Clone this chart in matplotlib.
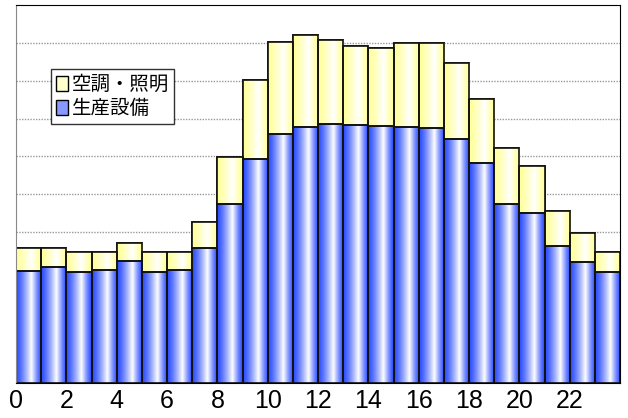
import numpy as np
import matplotlib.pyplot as plt
from matplotlib.patches import Patch
from matplotlib.colors import to_rgb

plt.rcParams['font.family'] = ['Noto Sans CJK JP', 'DejaVu Sans']

# 時刻ごとの電力 (単位は目盛なし)
hours = list(range(24))
seisan = [2.96, 3.06, 2.94, 2.99, 3.22, 2.95, 2.98, 3.58, 4.75, 5.92, 6.58, 6.78,
          6.85, 6.82, 6.80, 6.78, 6.76, 6.45, 5.81, 4.74, 4.51, 3.62, 3.21, 2.94]
total = [3.58, 3.58, 3.47, 3.48, 3.71, 3.47, 3.48, 4.27, 5.97, 8.01, 9.03, 9.21,
         9.07, 8.92, 8.87, 8.99, 8.99, 8.47, 7.51, 6.22, 5.75, 4.54, 3.96, 3.46]
kucho = [t - s for t, s in zip(total, seisan)]
labels = ['空調・照明', '生産設備']
xticks = list(range(0, 24, 2))

blue = '#2a4cff'
yellow = '#ffff99'


def gradient(base):
    # 左端と右端が濃く、中央寄りが白くなる横グラデーション
    x = np.linspace(0, 1, 64)
    t = np.where(x < 0.6, x / 0.6, (1 - x) / 0.4) ** 1.3
    c = np.array(to_rgb(base))
    img = c[None, :] * (1 - t[:, None]) + np.ones(3)[None, :] * t[:, None]
    return img[None, :, :]


fig = plt.figure(figsize=(6.28, 4.18), dpi=100)
ax = fig.add_axes([0.0255, 0.0837, 0.962, 0.904])

b1 = ax.bar(hours, seisan, width=1, align='edge', color=blue, edgecolor='#111111', linewidth=1.2, zorder=2)
b2 = ax.bar(hours, kucho, width=1, align='edge', bottom=seisan, color=yellow, edgecolor='#111111', linewidth=1.2, zorder=2)

for bars, base in [(b1, blue), (b2, yellow)]:
    img = gradient(base)
    for p in bars:
        x0, y0 = p.get_x(), p.get_y()
        im = ax.imshow(img, extent=[x0, x0 + p.get_width(), y0, y0 + p.get_height()],
                       aspect='auto', zorder=2.1, interpolation='bilinear')
        im.set_clip_path(p)
        # 枠線をもう一度上に描く
        ax.add_patch(plt.Rectangle((x0, y0), p.get_width(), p.get_height(), fill=False,
                                   edgecolor='#111111', linewidth=1.2, zorder=2.2))

ax.set_xlim(0, 24)
ax.set_ylim(0, 10)
ax.set_yticks(np.arange(1, 10))
ax.yaxis.grid(True, color='#999999', linestyle=(0, (1, 1)), linewidth=1)
ax.set_axisbelow(True)
ax.tick_params(axis='y', left=False, labelleft=False)
ax.set_xticks(xticks)
ax.set_xticklabels([str(h) for h in xticks])
for lab in ax.get_xticklabels():
    lab.set_fontsize(18)
    lab.set_family('Liberation Sans')
ax.tick_params(axis='x', length=0, pad=4)

for s in ['top', 'right', 'bottom']:
    ax.spines[s].set_color('black')
ax.spines['left'].set_color('#888888')

handles = [Patch(facecolor='#ffffcc', edgecolor='black', linewidth=1),
           Patch(facecolor='#8899ff', edgecolor='black', linewidth=1)]
leg = ax.legend(handles, labels, loc='upper left', bbox_to_anchor=(0.058, 0.83), fontsize=14,
                handlelength=0.6, handleheight=0.8, handletextpad=0.2, borderpad=0.25,
                labelspacing=0.15, fancybox=False, framealpha=1, borderaxespad=0)
leg.get_frame().set_edgecolor('#333333')
leg.get_frame().set_linewidth(1)

plt.savefig('out.png', dpi=100)
